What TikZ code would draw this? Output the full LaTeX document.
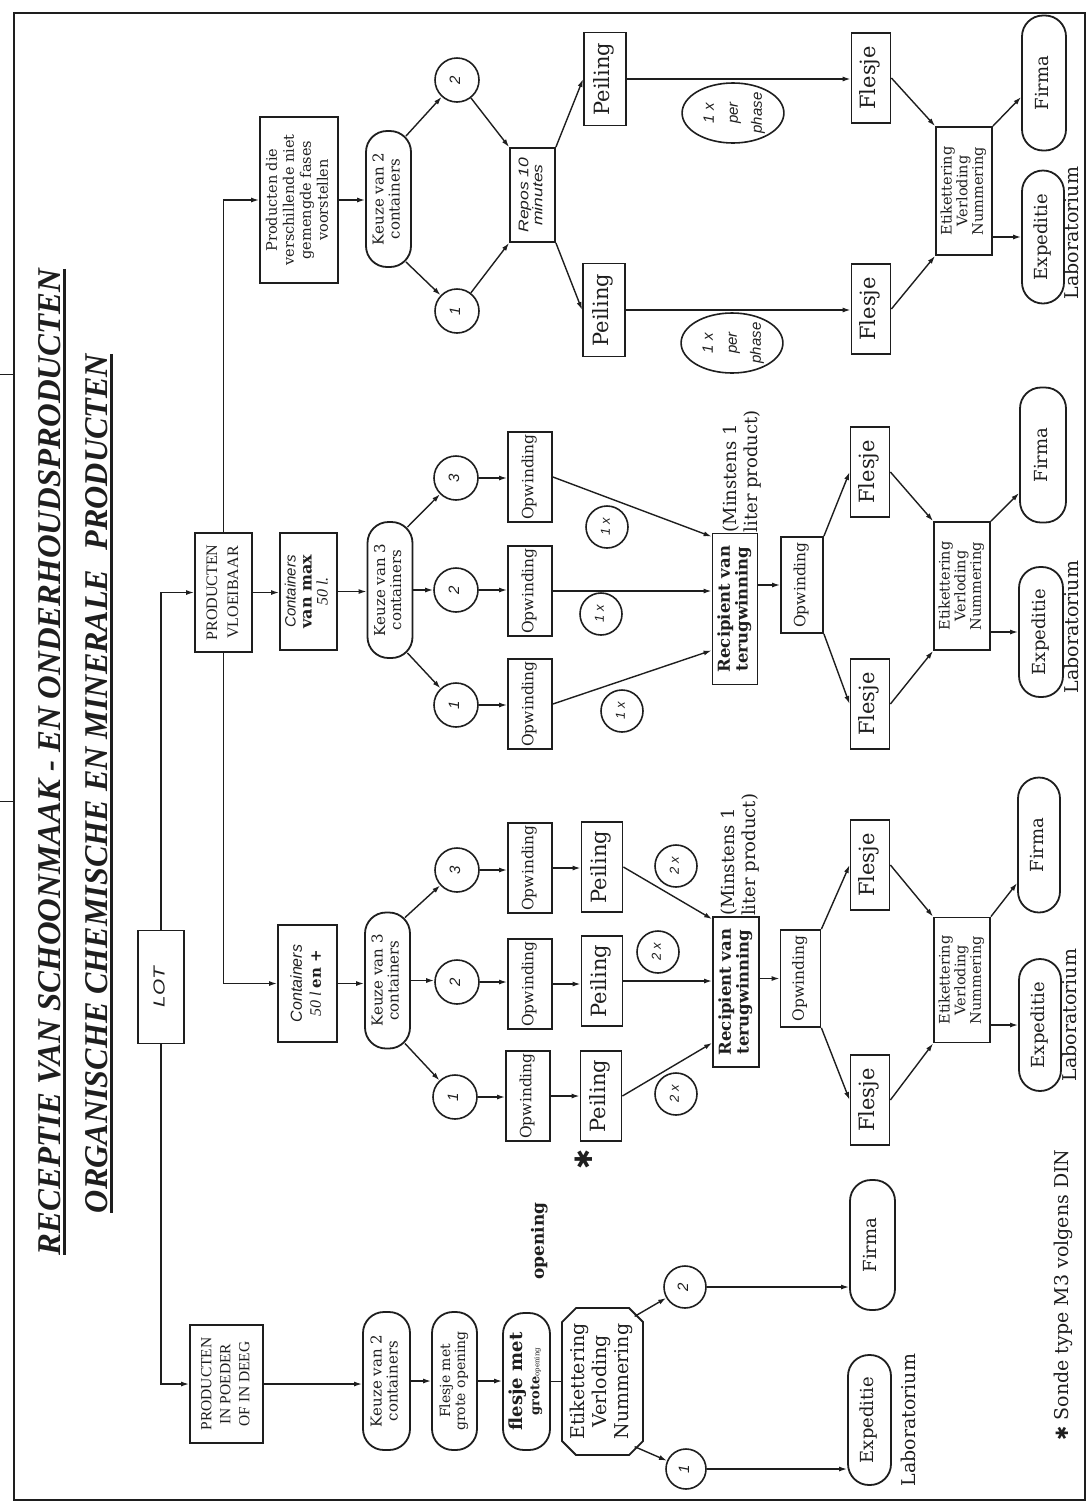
\documentclass[tikz,border=0pt]{standalone}
\usepackage{fontspec}
\setmainfont{Liberation Serif}
\newfontfamily\dvs{DejaVu Serif}
\newfontfamily\dvsans{DejaVu Sans}
\newfontfamily\lsans{Liberation Sans}
\usetikzlibrary{arrows.meta,calc,shapes.misc,shapes.geometric}
\definecolor{ink}{HTML}{1E1E1E}
\newcommand\RT[2][1]{\rotatebox{90}{\scalebox{#1}[1]{\begin{tabular}{@{}c@{}}#2\end{tabular}}}}
\newcommand\RTl[1]{\rotatebox{90}{\begin{tabular}{@{}l@{}}#1\end{tabular}}}
\newcommand\fsz[2]{\fontsize{#1}{#2}\selectfont}
\begin{document}
\begin{tikzpicture}[x=1pt,y=-1pt,
  wh/.style 2 args={minimum width=#1pt,minimum height=#2pt},
  box/.style={draw=ink,line width=1.8pt,fill=white,inner sep=0pt,text=ink},
  stad/.style={box,rounded corners=21pt},
  circ/.style={draw=ink,circle,line width=1.6pt,minimum size=44pt,inner sep=0pt,fill=white,text=ink,font=\lsans\itshape\fsz{15}{16}},
  xcirc/.style={circ,minimum size=42pt,font=\lsans\itshape\fsz{13}{14}},
  lbl/.style={inner sep=0pt,text=ink},
  arr/.style={draw=ink,line width=1.4pt,-{Latex[length=8pt,width=5pt]}},
  ln/.style={draw=ink,line width=1.4pt},
  opw/.style={box,wh={44}{90},font=\dvs\fsz{15.5}{16}},
  pei/.style={box,wh={41}{90},font=\dvs\fsz{21}{22}},
  fle/.style={box,wh={39}{90},font=\dvs\fsz{21}{22}},
  etk/.style={box,wh={56}{127},font=\dvs\fsz{14.5}{15.5}},
  fir/.style={stad,wh={44}{135},font=\dvs\fsz{18}{20}},
  kz/.style={stad,wh={45}{136},font=\dvs\fsz{15}{16}},
  rec/.style={box,wh={45}{151},font=\dvs\bfseries\fsz{16.5}{17}},
  lab/.style={lbl,font=\dvs\fsz{19}{20}},
  mins/.style={lbl,font=\dvs\fsz{18}{21},anchor=south},
  phs/.style={draw=ink,ellipse,line width=1.6pt,minimum width=92pt,minimum height=60pt,inner sep=0pt,fill=white,text=ink,font=\lsans\itshape\fsz{15}{24}},
]
\fill[white] (0,0) rectangle (1089,1508);
\useasboundingbox (0,0) rectangle (1089,1508);
\draw[ink,line width=2.6pt] (14,13) rectangle (1085,1500);
\draw[ink,line width=1pt] (0,374) -- (14,374) (0,801) -- (14,801);

% title
\node[lbl,font=\bfseries\itshape] (t1) at (50,762) {\rotatebox{90}{\resizebox{986pt}{22pt}{RECEPTIE VAN SCHOONMAAK - EN ONDERHOUDSPRODUCTEN}}};
\node[lbl,font=\bfseries\itshape] (t2) at (97,783.5) {\rotatebox{90}{\resizebox{859pt}{22pt}{ORGANISCHE CHEMISCHE EN MINERALE\hspace{0.6em}PRODUCTEN}}};
\draw[ink,line width=2.4pt] ([xshift=3pt]t1.north east) -- ([xshift=3pt]t1.south east);
\draw[ink,line width=2.4pt] ([xshift=3pt]t2.north east) -- ([xshift=3pt]t2.south east);

% LOT and first level
\node[box,wh={46}{113},font=\lsans\itshape\fsz{16}{18}] (lot) at (161,987) {\RT[1.3]{LOT}};
\node[box,wh={57}{119},font=\fsz{16}{21}] (vlo) at (223.5,592.5) {\RT{PRODUCTEN\\VLOEIBAAR}};
\node[box,wh={73}{118},font=\fsz{15.5}{19}] (pow) at (226.5,1384) {\RT{PRODUCTEN\\IN POEDER\\OF IN DEEG}};
\node[box,wh={78}{166},font=\dvs\fsz{14.5}{17}] (fas) at (299,200) {\RT{Producten die\\verschillende niet\\gemengde fases\\voorstellen}};
\node[box,wh={57}{117},font=\fsz{15}{16}] (cvm) at (308.5,591.5) {\RT{{\lsans\itshape\fsz{15}{16}Containers}\\{\dvs\bfseries\fsz{16}{16}van max}\\{\itshape\fsz{16}{16}50 l.}}};
\node[box,wh={59}{117},font=\fsz{15}{19}] (c5p) at (307.5,983.5) {\RT{{\lsans\itshape\fsz{16}{19}Containers}\\{\itshape\fsz{16}{19}50 l }{\dvs\bfseries\fsz{15}{19}en +}}};

% Keuze
\node[kz] (kf) at (388.5,199) {\RT{Keuze van 2\\containers}};
\node[kz] (km) at (390,590) {\RT{Keuze van 3\\containers}};
\node[kz] (kp) at (387.5,980.5) {\RT{Keuze van 3\\containers}};
\node[kz,wh={47}{138}] (kw) at (386.5,1381) {\RT{Keuze van 2\\containers}};

% circles
\node[circ] (cf2) at (457,80) {\RT{2}};
\node[circ] (cf1) at (457,311) {\RT{1}};
\node[circ] (cm3) at (456,478) {\RT{3}};
\node[circ] (cm2) at (456,590) {\RT{2}};
\node[circ] (cm1) at (456,705) {\RT{1}};
\node[circ] (cp3) at (457,870) {\RT{3}};
\node[circ] (cp2) at (457,982) {\RT{2}};
\node[circ] (cp1) at (455,1097) {\RT{1}};
\node[circ,minimum size=42pt] (pc2) at (685,1287) {\RT{2}};
\node[circ,minimum size=40pt] (pc1) at (686,1469) {\RT{1}};

% Opwinding
\node[opw] (om3) at (530,477) {\RT{Opwinding}};
\node[opw] (om2) at (530,591) {\RT{Opwinding}};
\node[opw] (om1) at (530,704) {\RT{Opwinding}};
\node[opw] (op3) at (530,868) {\RT{Opwinding}};
\node[opw] (op2) at (530,984) {\RT{Opwinding}};
\node[opw] (op1) at (528,1096) {\RT{Opwinding}};
\node[opw,wh={42}{96}] (omx) at (802,585) {\RT{Opwinding}};
\node[opw,wh={40}{97}] (opx) at (800.5,978.5) {\RT{Opwinding}};

% Peiling
\node[pei] (pp3) at (602,867) {\RT{Peiling}};
\node[pei] (pp2) at (602,981) {\RT{Peiling}};
\node[pei] (pp1) at (601,1096) {\RT{Peiling}};
\node[pei,wh={42}{93}] (pfu) at (605,79) {\RT{Peiling}};
\node[pei,wh={42}{93}] (pfl) at (604,310) {\RT{Peiling}};

% count circles
\node[xcirc] (x2a) at (676,866) {\RT{2 x}};
\node[xcirc] (x2b) at (658,952) {\RT{2 x}};
\node[xcirc] (x2c) at (676,1094) {\RT{2 x}};
\node[xcirc] (x1a) at (607,527) {\RT{1 x}};
\node[xcirc] (x1b) at (601,614) {\RT{1 x}};
\node[xcirc] (x1c) at (622,711) {\RT{1 x}};

% Recipient
\node[rec] (rm) at (735,609) {\RT{Recipient van\\terugwinning}};
\node[rec,wh={46}{150}] (rp) at (736,992) {\RT{Recipient van\\terugwinning}};
\node[mins] (mnm) at ($(rm.north)+(8,0)$) {\RTl{(Minstens 1\\liter product)}};
\node[mins] (mnp) at ($(rp.north)+(5,0)$) {\RTl{(Minstens 1\\liter product)}};

% Repos and phases
\node[box,wh={45}{94},font=\lsans\itshape\fsz{14}{13}] (rep) at (532.5,195) {\RT[1.25]{Repos 10\\minutes}};
\node[phs] (ph1) at (733,113) {\RT{1 x\\per\\phase}};
\node[phs] (ph2) at (732,343) {\RT{1 x\\per\\phase}};

% Flesje
\node[fle] (fmu) at (870,472) {\RT{Flesje}};
\node[fle] (fml) at (870,704) {\RT{Flesje}};
\node[fle] (fpu) at (870,865) {\RT{Flesje}};
\node[fle] (fpl) at (870,1100) {\RT{Flesje}};
\node[fle] (ffu) at (871,78) {\RT{Flesje}};
\node[fle] (ffl) at (871,309) {\RT{Flesje}};

% Etikettering
\node[etk,wh={56}{128}] (ef) at (964,191) {\RT{Etikettering\\Verloding\\Nummering}};
\node[etk,wh={56}{128}] (em) at (962,586) {\RT{Etikettering\\Verloding\\Nummering}};
\node[etk,wh={56}{125}] (ep) at (962,980) {\RT{Etikettering\\Verloding\\Nummering}};

% Firma / Expeditie
\node[fir] (fF) at (1044,83) {\RT{Firma}};
\node[fir,wh={42}{133}] (xF) at (1043,237) {\RT{Expeditie}};
\node[fir,wh={46}{135}] (fm) at (1043,455) {\RT{Firma}};
\node[fir,wh={44}{130}] (xm) at (1041,632) {\RT{Expeditie}};
\node[fir,wh={42}{135}] (fp) at (1039,845) {\RT{Firma}};
\node[fir,wh={42}{132}] (xp) at (1040,1025) {\RT{Expeditie}};
\node[lab] (laF) at (1074,233) {\RT{Laboratorium}};
\node[lab] (laM) at (1074,627) {\RT{Laboratorium}};
\node[lab] (laC) at (1072,1015) {\RT{Laboratorium}};

% poeder chain
\node[stad,wh={45}{138},font=\dvs\fsz{14}{15}] (flA) at (454.5,1381) {\RT{Flesje met\\grote opening}};
\node[stad,wh={47}{137},font=\dvs\fsz{14}{17}] (flB) at (526.5,1381.5) {\RT{{\bfseries\fsz{18}{17}flesje met}\\{\bfseries\fsz{13}{13}grote}{\fsz{7}{8}opening}}};
\node[lbl,font=\dvs\bfseries\fsz{17}{18}] (opn) at (540,1241) {\RT{opening}};
\node[box,chamfered rectangle,chamfered rectangle xsep=7pt,chamfered rectangle ysep=7pt,wh={81}{147},font=\dvs\fsz{19}{22}] (etP) at (602.5,1381.5) {\RT{Etikettering\\Verloding\\Nummering}};
\node[stad,wh={45}{130},font=\dvs\fsz{18}{20}] (fiP) at (872.5,1245) {\RT{Firma}};
\node[stad,wh={43}{130},font=\dvs\fsz{18}{20}] (exP) at (869.5,1420) {\RT{Expeditie}};
\node[lab] (laP) at (911,1420) {\RT{Laboratorium}};
\node[lbl,font=\dvsans\fsz{24}{24}] (ast) at (587,1159) {\RT{✱}};
\node[lbl,font=\dvs\fsz{19}{20}] (foot) at (1064,1295) {\RT{{\dvsans\fsz{17}{20}✱} Sonde type M3 volgens DIN}};

% ---------- connectors ----------
\draw[arr] (lot.north) |- (vlo.west);
\draw[arr] (lot.south) |- (pow.west);
\draw[arr] (vlo.north) |- (fas.west);
\draw[arr] (vlo.south) |- (c5p.west);
\draw[arr] (vlo.east) -- (vlo.east -| cvm.west);
\draw[arr] (fas.east) -- (fas.east -| kf.west);
\draw[arr] (cvm.east) -- (cvm.east -| km.west);
\draw[arr] (c5p.east) -- (c5p.east -| kp.west);
\draw[arr] (pow.east) -- (pow.east -| kw.west);
\draw[arr] (kw.east) -- (kw.east -| flA.west);
\draw[arr] (flA.east) -- (flA.east -| flB.west);
\draw[ln] (flB.east) -- (flB.east -| etP.west);

% fases branch
\draw[arr] ($(kf.north east)+(-6,6)$) -- (cf2);
\draw[arr] ($(kf.south east)+(-6,-6)$) -- (cf1);
\draw[arr] (cf2) -- (rep.north west);
\draw[arr] (cf1) -- (rep.south west);
\draw[arr] (rep.north east) -- (pfu.west);
\draw[arr] (rep.south east) -- (pfl.west);
\draw[arr] (pfu.east) -- (pfu.east -| ffu.west);
\draw[arr] (pfl.east) -- (pfl.east -| ffl.west);
\draw[arr] (ffu.east) -- (ef.north west);
\draw[arr] (ffl.east) -- (ef.south west);
\draw[arr] (ef.north east) -- ($(fF.west)+(0,14)$);
\draw[arr] (ef.east |- xF.west) -- (xF.west);

% max 50 l branch
\draw[arr] ($(km.north east)+(-6,6)$) -- (cm3);
\draw[arr] (km.east) -- (km.east -| cm2.west);
\draw[arr] ($(km.south east)+(-6,-6)$) -- (cm1);
\draw[arr] (cm3.east) -- (cm3.east -| om3.west);
\draw[arr] (cm2.east) -- (cm2.east -| om2.west);
\draw[arr] (cm1.east) -- (cm1.east -| om1.west);
\draw[arr] (om3.east) -- ($(rm.north west)+(0,4)$);
\draw[arr] (om2.east) -- (om2.east -| rm.west);
\draw[arr] (om1.east) -- ($(rm.south west)+(0,-35)$);
\draw[arr] (rm.east |- omx.west) -- (omx.west);
\draw[arr] (omx.north east) -- (fmu.west);
\draw[arr] (omx.south east) -- (fml.west);
\draw[arr] (fmu.east) -- (em.north west);
\draw[arr] (fml.east) -- (em.south west);
\draw[arr] (em.north east) -- ($(fm.west)+(0,38)$);
\draw[arr] (em.east |- xm.west) -- (xm.west);

% 50 l en + branch
\draw[arr] ($(kp.north east)+(-6,6)$) -- (cp3);
\draw[arr] (kp.east) -- (kp.east -| cp2.west);
\draw[arr] ($(kp.south east)+(-6,-6)$) -- (cp1);
\draw[arr] (cp3.east) -- (cp3.east -| op3.west);
\draw[arr] (cp2.east) -- (cp2.east -| op2.west);
\draw[arr] (cp1.east) -- (cp1.east -| op1.west);
\draw[arr] (op3.east) -- (op3.east -| pp3.west);
\draw[arr] (op2.east) -- (op2.east -| pp2.west);
\draw[arr] (op1.east) -- (op1.east -| pp1.west);
\draw[arr] (pp3.east) -- ($(rp.north west)+(0,3)$);
\draw[arr] (pp2.east) -- (pp2.east -| rp.west);
\draw[arr] (pp1.east) -- ($(rp.south west)+(0,-25)$);
\draw[arr] (rp.east |- opx.west) -- (opx.west);
\draw[arr] (opx.north east) -- (fpu.west);
\draw[arr] (opx.south east) -- (fpl.west);
\draw[arr] (fpu.east) -- (ep.north west);
\draw[arr] (fpl.east) -- (ep.south west);
\draw[arr] (ep.north east) -- ($(fp.west)+(0,38)$);
\draw[arr] (ep.east |- xp.west) -- (xp.west);

% poeder branch
\draw[arr] ($(etP.north east)+(-2,2)$) -- (pc2);
\draw[arr] ($(etP.south east)+(-2,-2)$) -- (pc1);
\draw[arr] (pc2.east) -- (pc2.east -| fiP.west);
\draw[arr] (pc1.east) -- (pc1.east -| exP.west);
\end{tikzpicture}
\end{document}
